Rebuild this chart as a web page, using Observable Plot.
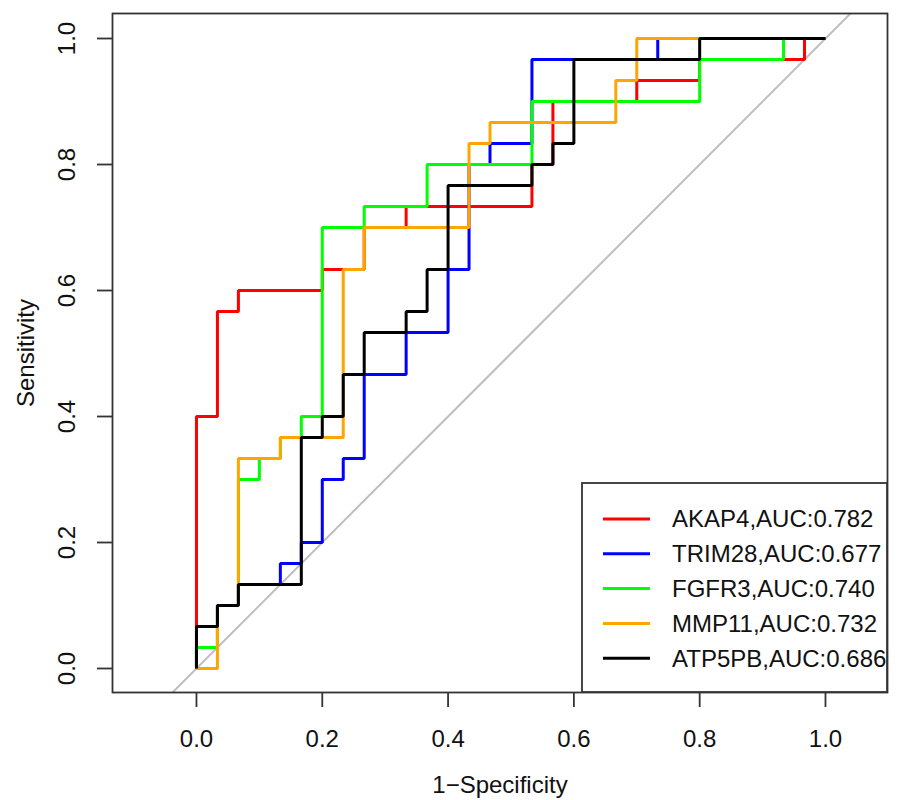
<!DOCTYPE html>
<html><head><meta charset="utf-8">
<script src="https://cdn.jsdelivr.net/npm/d3@7"></script>
<script src="https://cdn.jsdelivr.net/npm/@observablehq/plot@0.6"></script>
<style>
body{margin:0;background:#fff}
#wrap{width:900px;height:800px}
svg{font-family:"Liberation Sans",Arial,Helvetica,sans-serif}
</style>
</head><body><div id="wrap"></div>
<script>
// 30 controls and 30 cases: every step is 1/30; corners below are counts of 1/30
const N = 30;
const seriesNames = ["AKAP4", "TRIM28", "FGFR3", "MMP11", "ATP5PB"];
const aucValues = ["0.782", "0.677", "0.740", "0.732", "0.686"];
const seriesColors = ["#FF0000", "#0000FF", "#00FF00", "#FFA500", "#000000"];

const akap4Fpr = [0,0,1,1,2,2,6,6,8,8,10,10,16,16,17,17,21,21,24,24,29,29,30];
const akap4Tpr = [0,12,12,17,17,18,18,19,19,21,21,22,22,24,24,27,27,28,28,29,29,30,30];

const trim28Fpr = [0,0,1,1,2,2,4,4,5,5,6,6,7,7,8,8,10,10,12,12,13,13,14,14,16,16,22,22,30];
const trim28Tpr = [0,1,1,3,3,4,4,5,5,6,6,9,9,10,10,14,14,16,16,19,19,24,24,25,25,29,29,30,30];

const fgfr3Fpr = [0,0,1,1,2,2,3,3,4,4,5,5,6,6,8,8,11,11,16,16,24,24,28,28,30];
const fgfr3Tpr = [0,1,1,3,3,9,9,10,10,11,11,12,12,21,21,22,22,24,24,27,27,29,29,30,30];

const mmp11Fpr = [0,1,1,2,2,4,4,7,7,8,8,13,13,14,14,20,20,21,21,30];
const mmp11Tpr = [0,0,3,3,10,10,11,11,19,19,21,21,25,25,26,26,28,28,30,30];

const atp5pbFpr = [0,0,1,1,2,2,5,5,6,6,7,7,8,8,10,10,11,11,12,12,16,16,17,17,18,18,24,24,30];
const atp5pbTpr = [0,2,2,3,3,4,4,11,11,12,12,14,14,16,16,17,17,19,19,23,23,24,24,25,25,29,29,30,30];

const xTicks = [0, 0.2, 0.4, 0.6, 0.8, 1.0];
const yTicks = [0, 0.2, 0.4, 0.6, 0.8, 1.0];
const xTitle = "1\u2212Specificity";
const yTitle = "Sensitivity";

const curves = [
  [akap4Fpr, akap4Tpr], [trim28Fpr, trim28Tpr], [fgfr3Fpr, fgfr3Tpr],
  [mmp11Fpr, mmp11Tpr], [atp5pbFpr, atp5pbTpr]
].map(([fx, ty], i) => fx.map((f, j) => ({series: seriesNames[i], x: f / N, y: ty[j] / N})));

const xDomain = [-0.1335, 1.0986];
const yDomain = [-0.0381, 1.0397];
const diag = [yDomain[0], yDomain[1]].map(v => ({x: v, y: v}));

const FS = 24;
const LW = 3;
const axisColor = "#333";

const marks = [
  Plot.line(diag, {x: "x", y: "y", stroke: "#BEBEBE", strokeWidth: 2, clip: true}),
  ...curves.map((c, i) => Plot.line(c, {x: "x", y: "y", stroke: seriesColors[i], strokeWidth: LW, strokeLinejoin: "miter", strokeLinecap: "butt"})),
  Plot.frame({stroke: axisColor, strokeWidth: 1.8}),
  Plot.axisX({ticks: xTicks, tickSize: 15, tickFormat: () => "", stroke: axisColor, strokeWidth: 1.8, label: null}),
  Plot.axisY({ticks: yTicks, tickSize: 15, tickFormat: () => "", stroke: axisColor, strokeWidth: 1.8, label: null}),
  Plot.text(xTicks, {x: d => d, frameAnchor: "bottom", dy: 47, text: d => d.toFixed(1), fontSize: FS, fill: "#111", textAnchor: "middle", lineAnchor: "middle"}),
  Plot.text(yTicks, {y: d => d, frameAnchor: "left", dx: -45, rotate: -90, text: d => d.toFixed(1), fontSize: FS, fill: "#111", textAnchor: "middle", lineAnchor: "middle"}),
  Plot.text([xTitle], {frameAnchor: "bottom", dy: 93, text: d => d, fontSize: FS, fill: "#111", textAnchor: "middle", lineAnchor: "middle"}),
  Plot.text([yTitle], {frameAnchor: "left", dx: -86, rotate: -90, text: d => d, fontSize: FS, fill: "#111", textAnchor: "middle", lineAnchor: "middle"})
];

const chart = Plot.plot({
  width: 900, height: 800,
  marginLeft: 112, marginRight: 13, marginTop: 13, marginBottom: 108,
  x: {domain: xDomain, axis: null},
  y: {domain: yDomain, axis: null},
  style: {background: "#fff", fontFamily: "'Liberation Sans', Arial, sans-serif", overflow: "visible"},
  marks
});

// legend (R-style box in the lower right corner of the plotting region)
const svg = d3.select(chart);
const lg = {x0: 582, y0: 483, x1: 887, y1: 692, first: 519, step: 34.8, lineX0: 603, lineX1: 650, textX: 672};
const g = svg.append("g").attr("text-anchor", "start");
g.append("rect").attr("x", lg.x0).attr("y", lg.y0).attr("width", lg.x1 - lg.x0).attr("height", lg.y1 - lg.y0)
  .attr("fill", "#fff").attr("stroke", axisColor).attr("stroke-width", 1.8);
seriesNames.forEach((name, i) => {
  const y = lg.first + i * lg.step;
  g.append("line").attr("x1", lg.lineX0).attr("x2", lg.lineX1).attr("y1", y).attr("y2", y)
    .attr("stroke", seriesColors[i]).attr("stroke-width", LW);
  g.append("text").attr("x", lg.textX).attr("y", y).attr("dy", "0.35em").attr("text-anchor", "start")
    .attr("font-size", FS).attr("fill", "#111").text(`${name},AUC:${aucValues[i]}`);
});

document.getElementById("wrap").appendChild(chart);
</script>
</body></html>
